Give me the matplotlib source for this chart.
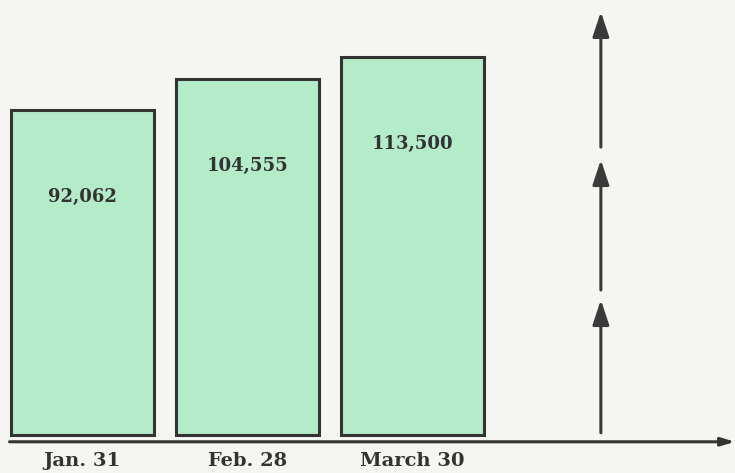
"""
Bar chart: totals at Jan. 31 / Feb. 28 / March 30 with growth arrow.
"""

import matplotlib.pyplot as plt

# Data
dates = ['Jan. 31', 'Feb. 28', 'March 30']
totals = [92062, 104555, 113500]

# Style
bar_color = '#b4ecc9'
edge_color = '#333333'
ink = '#333333'
paper = '#f5f5f1'
base = -41300          # bars in the original are not drawn from zero
font = 'DejaVu Serif'

fig = plt.figure(figsize=(7.35, 4.73), dpi=100, facecolor=paper)
ax = fig.add_axes([0, 0, 1, 1])
ax.set_facecolor(paper)
ax.axis('off')

x = list(range(len(dates)))
heights = [v - base for v in totals]
bars = ax.bar(x, heights, bottom=base, width=0.865, color=bar_color,
              edgecolor=edge_color, linewidth=2.2, zorder=2)

ax.set_xlim(-0.5, 3.955)
ax.set_ylim(-56900, 137000)

# value labels inside the bars
for xi, v in zip(x, totals):
    ax.annotate(f'{v:,}', (xi, v), xytext=(0, -87), textcoords='offset pixels',
                ha='center', va='center', fontsize=13, fontweight='bold',
                family=font, color=ink, zorder=3)

# category labels under the bars
for xi, d in zip(x, dates):
    ax.text(xi, 0.045, d, transform=ax.get_xaxis_transform(), ha='center',
            va='top', fontsize=14, fontweight='bold', family=font, color=ink)

# horizontal axis with arrow at the right end
ax.annotate('', xy=(1.0, 0.066), xytext=(0.013, 0.066), xycoords='axes fraction',
            arrowprops=dict(arrowstyle='-|>,head_length=0.5,head_width=0.15',
                            lw=2.2, color=ink, shrinkA=0, shrinkB=0,
                            mutation_scale=16))

# growth arrow on the right, in three steps
arrow_x = 3.142
steps = [(0.085, 0.366), (0.387, 0.662), (0.689, 0.975)]
for y0, y1 in steps:
    ax.annotate('', xy=(arrow_x, y1), xytext=(arrow_x, y0),
                xycoords=ax.get_xaxis_transform(),
                arrowprops=dict(arrowstyle='-|>,head_length=0.6,head_width=0.2',
                                lw=2.2, color='#3a3a3a', shrinkA=0, shrinkB=0,
                                mutation_scale=25))

plt.savefig('out.png', dpi=100, facecolor=paper)
plt.close()
print("Saved out.png")
